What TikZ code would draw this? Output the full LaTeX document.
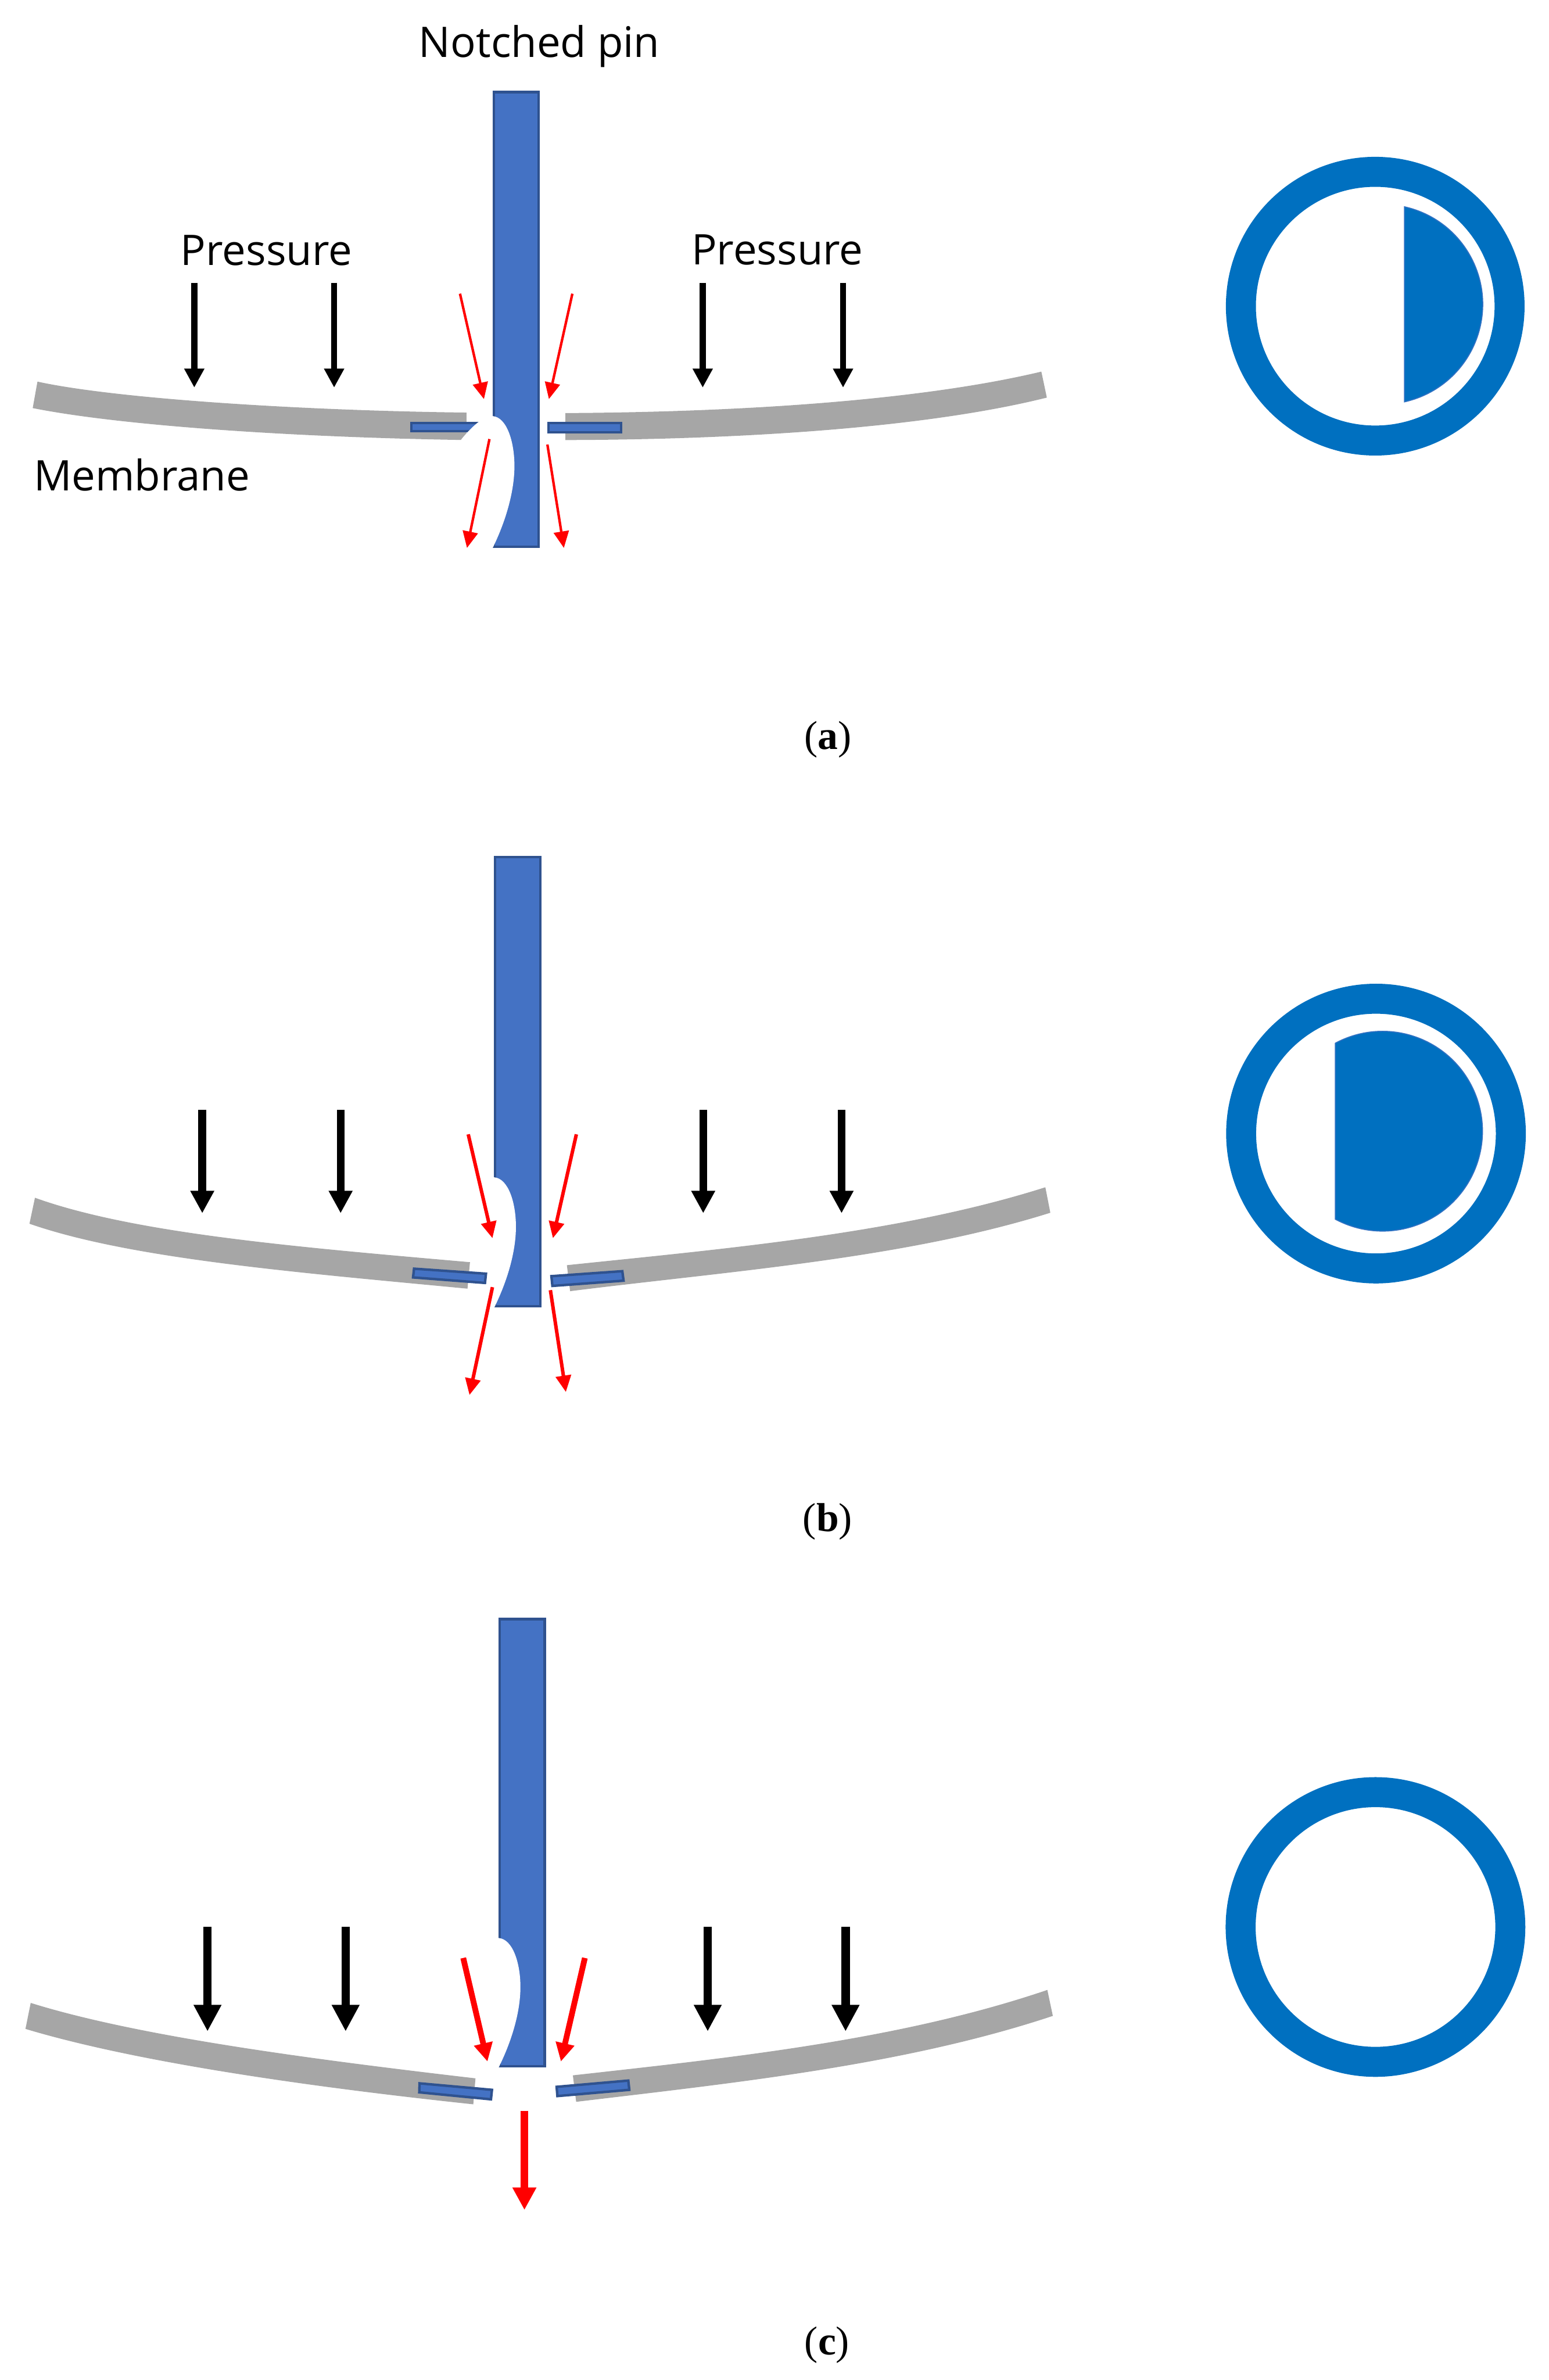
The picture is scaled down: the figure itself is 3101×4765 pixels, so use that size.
\documentclass[tikz,border=0pt]{standalone}
\usepackage{fontspec}
\usetikzlibrary{arrows.meta}
\newfontfamily\labelfont{Open Sans}
\newfontfamily\capfont{Liberation Serif}
\definecolor{pinblue}{HTML}{4472C4}
\definecolor{pinedge}{HTML}{2F528F}
\definecolor{ringblue}{HTML}{0070C0}
\definecolor{memgray}{HTML}{A6A6A6}
% pin with its notch: x of left side, top, notch, bottom
\newcommand{\notchedpin}[4]{
	\draw[pinbody] ({#1+2.5},{#2+2.5}) rectangle ({#1+92.5},{#4-2.5});
	\begin{scope}[shift={(#1,#3)},yscale={(#4-#3)/264}]
		\fill[white] (0,0) .. controls (29,2) and (44,52) .. (44,100)
			.. controls (44,152) and (26,212) .. (0,265)
			.. controls (-46,252) and (-100,207) .. (-98,137)
			.. controls (-96,102) and (-81,72) .. (-61,45)
			.. controls (-46,27) and (-21,0) .. (0,0) -- cycle;
	\end{scope}
}
\begin{document}
\begin{tikzpicture}[x=0.01cm,y=-0.01cm,
	pinbody/.style={draw=pinedge,fill=pinblue,line width=0.05cm},
	flap/.style={draw=pinedge,fill=pinblue,line width=0.05cm},
	membrane/.style={fill=memgray},
	ring/.style={draw=ringblue,line width=0.6cm},
	halfdisk/.style={fill=ringblue,draw=pinblue!70!ringblue,line width=0.02cm},
	flowarrow/.style n args={3}{-{Triangle[length=#2cm,width=#3cm]},line width=#1cm},
	presa/.style={black,flowarrow={0.125}{0.38}{0.38}},
	presb/.style={black,flowarrow={0.155}{0.45}{0.45}},
	presc/.style={black,flowarrow={0.17}{0.53}{0.52}},
	flowa/.style={red,flowarrow={0.05}{0.33}{0.30}},
	flowb/.style={red,flowarrow={0.07}{0.33}{0.30}},
	flowc/.style={red,flowarrow={0.115}{0.37}{0.36}},
	outflow/.style={red,flowarrow={0.15}{0.45}{0.45}},
	lbl/.style={anchor=base west,inner sep=0pt,font=\labelfont\fontsize{24}{28}\selectfont},
	panelcap/.style={anchor=base,inner sep=0pt,font=\capfont\fontsize{23}{26}\selectfont}]
	\useasboundingbox (0,0) rectangle (3101,4765);

	% panel a
	\fill[membrane] (75,764) .. controls (230,798) and (600,822) .. (934,826) -- (934,881)
		.. controls (560,875) and (230,850) .. (65.5,817) -- cycle;
	\fill[membrane] (1132,827) .. controls (1500,825) and (1850,800) .. (2085,744) -- (2096,796)
		.. controls (1860,855) and (1500,880) .. (1132,881) -- cycle;
	\draw[flap] (823.5,846.5) rectangle (965,863.5);
	\draw[flap] (1098.5,846.5) rectangle (1243.5,865.5);
	\notchedpin{986}{182}{833}{1097}
	\draw[presa] (389,566) -- (389,776);
	\draw[presa] (669,566) -- (669,776);
	\draw[presa] (1407,566) -- (1407,776);
	\draw[presa] (1688,566) -- (1688,776);
	\draw[flowa] (921,588) -- (969,799);
	\draw[flowa] (1146,588) -- (1099,799);
	\draw[flowa] (980,879) -- (935,1097);
	\draw[flowa] (1096,890) -- (1129,1097);
	\node[lbl] (pinlabel) at (838,114) {Notched pin};
	\node[lbl] (pressleft) at (361,531) {Pressure};
	\node[lbl] (pressright) at (1384,530) {Pressure};
	\node[lbl] (memlabel) at (67,982) {Membrane};
	\draw[ring] (2753.5,613) circle (269);
	\draw[halfdisk] (2812,414) arc[start angle=-77.5,end angle=77.5,radius=200] -- cycle;
	\node[panelcap] (capa) at (1658,1500) {(\textbf{a})};

	% panel b
	\notchedpin{989}{1713}{2357}{2618}
	\fill[membrane] (70,2398) .. controls (270,2470) and (600,2497) .. (941,2527) -- (936,2580)
		.. controls (590,2547) and (260,2520) .. (59,2450) -- cycle;
	\fill[membrane] (1135,2533) .. controls (1450,2500) and (1800,2470) .. (2093,2377) -- (2103,2428)
		.. controls (1810,2520) and (1460,2545) .. (1141.5,2585) -- cycle;
	\draw[flap] (829,2540) -- (973,2550) -- (971,2568.5) -- (827,2557.5) -- cycle;
	\draw[flap] (1104,2555) -- (1246,2545) -- (1248.5,2564) -- (1106,2574.5) -- cycle;
	\draw[presb] (405,2222) -- (405,2429);
	\draw[presb] (682,2222) -- (682,2429);
	\draw[presb] (1408,2222) -- (1408,2429);
	\draw[presb] (1685,2222) -- (1685,2429);
	\draw[flowb] (937.5,2271) -- (986,2479);
	\draw[flowb] (1154,2271) -- (1107,2479);
	\draw[flowb] (986,2577) -- (940,2793);
	\draw[flowb] (1102,2583) -- (1133,2787);
	\draw[ring] (2755,2269.5) circle (270);
	\draw[halfdisk] (2673.7,2088.5) arc[start angle=-118.2,end angle=118.2,radius=200] -- cycle;
	\node[panelcap] (capb) at (1657,3066) {(\textbf{b})};

	% panel c
	\notchedpin{998}{3239}{3880}{4139}
	\fill[membrane] (61.5,4010) .. controls (270,4075) and (600,4120) .. (952,4161) -- (947.6,4213)
		.. controls (590,4175) and (260,4125) .. (51,4062) -- cycle;
	\fill[membrane] (1147,4155) .. controls (1460,4120) and (1800,4085) .. (2097,3984) -- (2108,4036)
		.. controls (1810,4135) and (1470,4170) .. (1153.6,4208) -- cycle;
	\draw[flap] (840,4171) -- (985,4184) -- (983,4203) -- (839.5,4189) -- cycle;
	\draw[flap] (1114.5,4178) -- (1258,4165.5) -- (1260,4184) -- (1116,4196.5) -- cycle;
	\draw[presc] (415.5,3858) -- (415.5,4067);
	\draw[presc] (692,3858) -- (692,4067);
	\draw[presc] (1417,3858) -- (1417,4067);
	\draw[presc] (1693,3858) -- (1693,4067);
	\draw[flowc] (927.5,3920) -- (976,4127.4);
	\draw[flowc] (1171,3920) -- (1123,4127.4);
	\draw[outflow] (1050,4226) -- (1050,4424.5);
	\draw[ring] (2754,3858) circle (270);
	\node[panelcap] (capc) at (1656,4714) {(\textbf{c})};
\end{tikzpicture}
\end{document}
